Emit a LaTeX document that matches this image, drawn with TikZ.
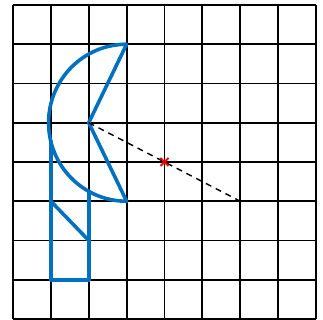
\documentclass[tikz,border=0pt]{standalone}
\definecolor{shapeblue}{RGB}{0,112,192}
\tikzset{
  gridline/.style={black, line width=1.8pt},
  shapeline/.style={shapeblue, line width=3.6pt, line join=round, line cap=round},
  guideline/.style={black, line width=1.4pt, dash pattern=on 6pt off 5pt},
  crossmark/.style={red, line width=2pt}
}
\begin{document}
\begin{tikzpicture}[x=37.875pt, y=39.25pt]
\useasboundingbox (-0.343,-0.0255) rectangle (8.185,8.127);
\draw[gridline, xstep=1, ystep=1] (0,0) grid (8,8);
% named points
\coordinate (top) at (3,7);
\coordinate (apex) at (2,5);
\coordinate (bot) at (3,3);
\coordinate (far) at (6,3);
\coordinate (mid) at (4,4);
\coordinate (lt) at (1,4.52);
\coordinate (rt) at (2,3.25);
\coordinate (lb) at (1,1);
\coordinate (rb) at (2,1);
\coordinate (dl) at (1,3);
\coordinate (dr) at (2,2);
% sector
\draw[shapeline] (bot) -- (apex) -- (top)
  arc[start angle=90, end angle=270, x radius=2.06, y radius=2];
% lower part
\draw[shapeline] (lt) -- (lb) -- (rb) -- (rt);
\draw[shapeline] (dl) -- (dr);
% dashed guide
\draw[guideline] (apex) -- (far);
% cross
\draw[crossmark] ([shift={(-4pt,-4pt)}]mid) -- ([shift={(4pt,4pt)}]mid);
\draw[crossmark] ([shift={(-4pt,4pt)}]mid) -- ([shift={(4pt,-4pt)}]mid);
\end{tikzpicture}
\end{document}
